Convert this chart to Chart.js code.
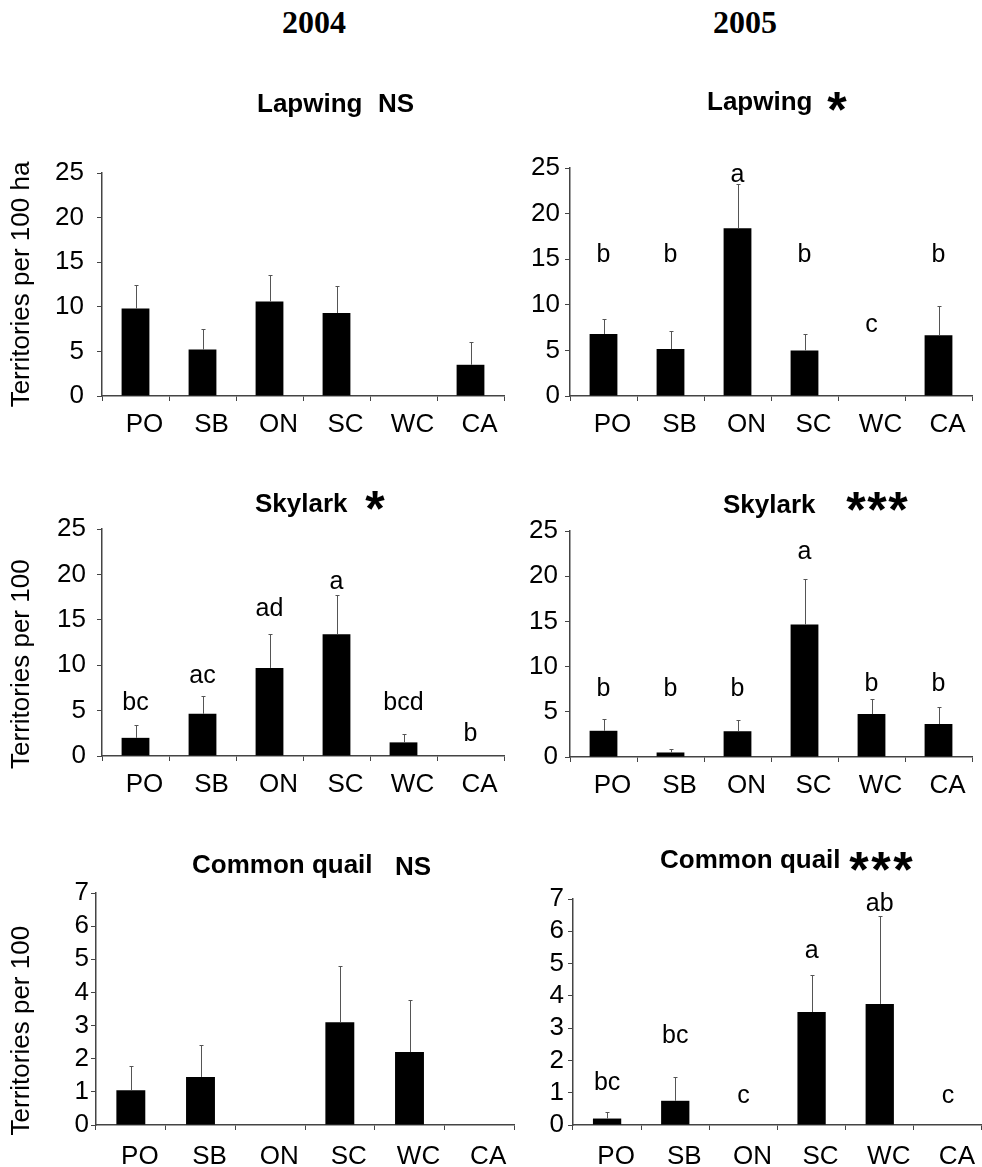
<!DOCTYPE html>
<html>
<head>
<meta charset="utf-8">
<script src="https://cdn.jsdelivr.net/npm/chart.js@4.4.1/dist/chart.umd.min.js"></script>
<style>
  body { margin: 0; background: #fff; }
  #page { position: relative; width: 982px; height: 1167px; overflow: hidden; }
  canvas { position: absolute; }
  .year { position: absolute; width: 200px; text-align: center; font: bold 32px 'Liberation Serif', 'Times New Roman', serif; line-height: 32px; }
</style>
</head>
<body>
<div id="page">
  <div class="year" style="left:214px; top:6px;">2004</div>
  <div class="year" style="left:645px; top:6px;">2005</div>
  <canvas id="lap04" width="520" height="380" style="left:0; top:60px;"></canvas>
  <canvas id="lap05" width="462" height="380" style="left:520px; top:60px;"></canvas>
  <canvas id="sky04" width="520" height="370" style="left:0; top:440px;"></canvas>
  <canvas id="sky05" width="462" height="370" style="left:520px; top:440px;"></canvas>
  <canvas id="qua04" width="520" height="357" style="left:0; top:810px;"></canvas>
  <canvas id="qua05" width="462" height="357" style="left:520px; top:810px;"></canvas>
</div>
<script>
// field types
const habitats = ['PO', 'SB', 'ON', 'SC', 'WC', 'CA'];

// territories per 100 ha (mean) and standard error
const lapwing2004 = [9.8, 5.2, 10.6, 9.3, 0, 3.5];
const lapwing2004Se = [2.6, 2.3, 3.0, 3.05, 0, 2.6];
const lapwing2005 = [6.8, 5.15, 18.4, 5.0, 0, 6.65];
const lapwing2005Se = [1.65, 2.0, 4.85, 1.75, 0, 3.25];
const skylark2004 = [2.0, 4.65, 9.7, 13.4, 1.5, 0];
const skylark2004Se = [1.4, 1.95, 3.7, 4.3, 0.95, 0];
const skylark2005 = [2.9, 0.5, 2.85, 14.65, 4.75, 3.65];
const skylark2005Se = [1.3, 0.35, 1.25, 5.0, 1.65, 1.85];
const quail2004 = [1.05, 1.45, 0, 3.1, 2.2, 0];
const quail2004Se = [0.73, 0.97, 0, 1.7, 1.58, 0];
const quail2005 = [0.2, 0.75, 0, 3.5, 3.75, 0];
const quail2005Se = [0.21, 0.75, 0, 1.16, 2.72, 0];

// post-hoc groups, and the value where each letter sits
const lapwing2005Groups = ['b', 'b', 'a', 'b', 'c', 'b'];
const lapwing2005GroupAt = [14.7, 14.7, 23.5, 14.7, 7.0, 14.7];
const skylark2004Groups = ['bc', 'ac', 'ad', 'a', 'bcd', 'b'];
const skylark2004GroupAt = [5.1, 8.0, 15.4, 18.4, 5.1, 1.6];
const skylark2005Groups = ['b', 'b', 'b', 'a', 'b', 'b'];
const skylark2005GroupAt = [6.7, 6.7, 6.7, 21.9, 7.3, 7.3];
const quail2005Groups = ['bc', 'bc', 'c', 'a', 'ab', 'c'];
const quail2005GroupAt = [1.07, 2.54, 0.68, 5.17, 6.62, 0.68];

const SANS = "'Liberation Sans', Arial, sans-serif";
const AXIS = '#444';

// error bars (upper half only) and group letters
const extras = {
  id: 'extras',
  afterDatasetsDraw(chart, args, opts) {
    const ctx = chart.ctx;
    const x = chart.scales.x, y = chart.scales.y;
    const meta = chart.getDatasetMeta(0);
    const vals = chart.data.datasets[0].data;
    ctx.save();
    ctx.strokeStyle = '#555';
    ctx.lineWidth = 1;
    meta.data.forEach((bar, i) => {
      const se = opts.se[i];
      if (!se) return;
      const cx = Math.round(bar.x) + 0.5;
      const y0 = y.getPixelForValue(vals[i]);
      const y1 = Math.round(y.getPixelForValue(vals[i] + se)) + 0.5;
      ctx.beginPath();
      ctx.moveTo(cx, y0);
      ctx.lineTo(cx, y1);
      ctx.moveTo(cx - 2, y1);
      ctx.lineTo(cx + 2, y1);
      ctx.stroke();
    });
    if (opts.groups) {
      ctx.fillStyle = '#000';
      ctx.font = '25px ' + SANS;
      ctx.textAlign = 'center';
      ctx.textBaseline = 'alphabetic';
      opts.groups.forEach((g, i) => {
        ctx.fillText(g, x.getPixelForValue(i), y.getPixelForValue(opts.groupAt[i]));
      });
    }
    ctx.restore();
  }
};

// species name plus significance mark above each panel
const heading = {
  id: 'heading',
  afterDraw(chart, args, opts) {
    const ctx = chart.ctx;
    ctx.save();
    ctx.fillStyle = '#000';
    ctx.textBaseline = 'alphabetic';
    opts.parts.forEach(p => {
      ctx.font = p.font;
      ctx.textAlign = p.align || 'left';
      ctx.fillText(p.text, p.x, p.y);
    });
    ctx.restore();
  }
};

function stars(n, x0, step, cy) {
  const out = [];
  for (let i = 0; i < n; i++) {
    out.push({ text: '*', font: 'bold 50px ' + SANS, align: 'center', x: x0 + i * step, y: cy + 26 });
  }
  return out;
}

function panel(id, p) {
  return new Chart(document.getElementById(id), {
    type: 'bar',
    data: {
      labels: habitats,
      datasets: [{
        data: p.values,
        backgroundColor: '#000',
        borderWidth: 0,
        categoryPercentage: 1,
        barPercentage: 0.415
      }]
    },
    plugins: [extras, heading],
    options: {
      responsive: false,
      animation: false,
      events: [],
      layout: { padding: { left: 0, right: p.right, top: p.top, bottom: 0 } },
      plugins: {
        legend: { display: false },
        tooltip: { enabled: false },
        extras: { se: p.se, groups: p.groups, groupAt: p.groupAt },
        heading: { parts: p.heading }
      },
      scales: {
        x: {
          offset: true,
          grid: { display: true, drawOnChartArea: false, offset: true, tickLength: 5, color: AXIS, lineWidth: 1 },
          border: { color: AXIS, width: 1.5 },
          ticks: { color: '#000', font: { family: SANS, size: 26 }, padding: p.xPad, labelOffset: 9, maxRotation: 0, autoSkip: false },
          afterFit: s => { s.height = p.xHeight; }
        },
        y: {
          min: 0,
          max: p.yMax,
          grid: { display: true, drawOnChartArea: false, tickLength: 5, color: AXIS, lineWidth: 1 },
          border: { color: AXIS, width: 1.5 },
          ticks: { stepSize: p.yStep, autoSkip: false, color: '#000', font: { family: SANS, size: 26 }, padding: p.yPad },
          title: {
            display: !!p.yTitle,
            text: p.yTitle || '',
            color: '#000',
            font: { family: SANS, size: 26 },
            padding: { top: 6, bottom: 0 }
          },
          afterFit: s => { s.width = p.yWidth; }
        }
      }
    }
  });
}

const B26 = 'bold 26px ' + SANS;

panel('lap04', {
  values: lapwing2004, se: lapwing2004Se,
  yMax: 25, yStep: 5, yTitle: 'Territories per 100 ha',
  yWidth: 102, right: 16, top: 113, xHeight: 44, yPad: 13, xPad: 8,
  heading: [
    { text: 'Lapwing', font: B26, x: 257, y: 52 },
    { text: 'NS', font: B26, x: 378, y: 52 }
  ]
});

panel('lap05', {
  values: lapwing2005, se: lapwing2005Se,
  groups: lapwing2005Groups, groupAt: lapwing2005GroupAt,
  yMax: 25, yStep: 5,
  yWidth: 50, right: 10, top: 108, xHeight: 44, yPad: 5, xPad: 8,
  heading: [{ text: 'Lapwing', font: B26, x: 187, y: 50 }].concat(stars(1, 317, 0, 41))
});

panel('sky04', {
  values: skylark2004, se: skylark2004Se,
  groups: skylark2004Groups, groupAt: skylark2004GroupAt,
  yMax: 25, yStep: 5, yTitle: 'Territories per 100\u00a0\u00a0\u00a0\u00a0\u00a0\u00a0',
  yWidth: 102, right: 16, top: 89, xHeight: 54, yPad: 11, xPad: 8,
  heading: [{ text: 'Skylark', font: B26, x: 255, y: 72 }].concat(stars(1, 375, 0, 60))
});

panel('sky05', {
  values: skylark2005, se: skylark2005Se,
  groups: skylark2005Groups, groupAt: skylark2005GroupAt,
  yMax: 25, yStep: 5,
  yWidth: 50, right: 10, top: 91, xHeight: 53, yPad: 7, xPad: 8,
  heading: [{ text: 'Skylark', font: B26, x: 203, y: 73 }].concat(stars(3, 336, 21, 61))
});

panel('qua04', {
  values: quail2004, se: quail2004Se,
  yMax: 7, yStep: 1, yTitle: 'Territories per 100\u00a0\u00a0\u00a0\u00a0\u00a0\u00a0',
  yWidth: 96, right: 6, top: 83, xHeight: 42, yPad: 2, xPad: 11,
  heading: [
    { text: 'Common quail', font: B26, x: 192, y: 63 },
    { text: 'NS', font: B26, x: 395, y: 65 }
  ]
});

panel('qua05', {
  values: quail2005, se: quail2005Se,
  groups: quail2005Groups, groupAt: quail2005GroupAt,
  yMax: 7, yStep: 1,
  yWidth: 53, right: 0, top: 89, xHeight: 42, yPad: 4, xPad: 11,
  heading: [{ text: 'Common quail', font: B26, x: 140, y: 58 }].concat(stars(3, 339, 22, 51))
});
</script>
</body>
</html>
